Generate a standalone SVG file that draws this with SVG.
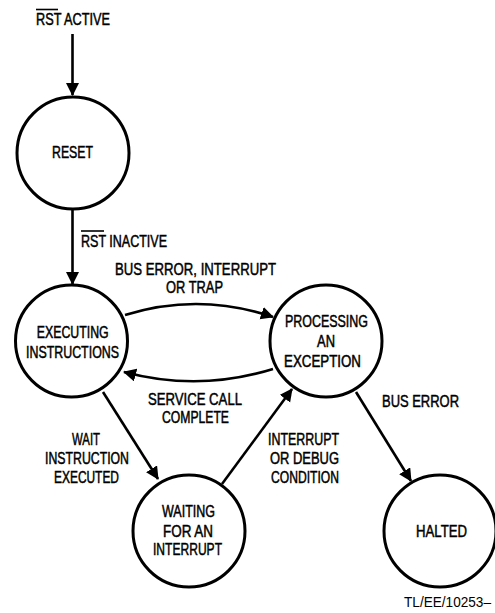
<svg xmlns="http://www.w3.org/2000/svg" width="495" height="613" viewBox="0 0 495 613">
<style>
.node{fill:#fff;stroke:#000;stroke-width:3}
.edge{fill:none;stroke:#000;stroke-width:2.6}
.ov{stroke:#000;stroke-width:1.6}
text{font-family:"Liberation Sans",Arial,sans-serif;font-size:17px;fill:#000;stroke:#000;stroke-width:0.5}
.small{font-size:14px;stroke-width:0}
</style>
<defs>
<marker id="ah" markerUnits="userSpaceOnUse" markerWidth="14" markerHeight="14" refX="12" refY="6.5" orient="auto">
<path d="M0,0 L13,6.5 L0,13 Z" fill="#000"/>
</marker>
</defs>
<rect width="495" height="613" fill="#fff"/>
<g id="connectors">
<line class="edge" x1="72.5" y1="34" x2="72.5" y2="95" marker-end="url(#ah)"/>
<line class="edge" x1="72.5" y1="210" x2="72.5" y2="284" marker-end="url(#ah)"/>
<path class="edge" d="M125,315 Q199,292 273,317" marker-end="url(#ah)"/>
<path class="edge" d="M273,369 Q199,392 124,372" marker-end="url(#ah)"/>
<line class="edge" x1="103" y1="392" x2="158" y2="479" marker-end="url(#ah)"/>
<line class="edge" x1="222" y1="484" x2="292" y2="389" marker-end="url(#ah)"/>
<line class="edge" x1="356" y1="392" x2="411" y2="481" marker-end="url(#ah)"/>
</g>
<g id="labels">
<text x="36" y="25" textLength="74" lengthAdjust="spacingAndGlyphs">RST ACTIVE</text>
<line class="ov" x1="36" y1="9.5" x2="58" y2="9.5"/>
<text x="81" y="247" textLength="86" lengthAdjust="spacingAndGlyphs">RST INACTIVE</text>
<line class="ov" x1="81" y1="231" x2="104" y2="231"/>
<text x="115" y="275" textLength="161" lengthAdjust="spacingAndGlyphs">BUS ERROR, INTERRUPT</text>
<text x="166" y="293" textLength="57" lengthAdjust="spacingAndGlyphs">OR TRAP</text>
<text x="148" y="405" textLength="94" lengthAdjust="spacingAndGlyphs">SERVICE CALL</text>
<text x="162" y="423" textLength="67" lengthAdjust="spacingAndGlyphs">COMPLETE</text>
<text x="382" y="407" textLength="77" lengthAdjust="spacingAndGlyphs">BUS ERROR</text>
<text x="72" y="445" textLength="28" lengthAdjust="spacingAndGlyphs">WAIT</text>
<text x="45" y="464" textLength="84" lengthAdjust="spacingAndGlyphs">INSTRUCTION</text>
<text x="54" y="483" textLength="65" lengthAdjust="spacingAndGlyphs">EXECUTED</text>
<text x="268" y="445" textLength="71" lengthAdjust="spacingAndGlyphs">INTERRUPT</text>
<text x="270" y="464" textLength="69" lengthAdjust="spacingAndGlyphs">OR DEBUG</text>
<text x="271" y="483" textLength="68" lengthAdjust="spacingAndGlyphs">CONDITION</text>
<text class="small" x="404" y="607" textLength="87" lengthAdjust="spacingAndGlyphs">TL/EE/10253–</text>
</g>
<g id="reset">
<circle class="node" cx="73" cy="153" r="56"/>
<text x="52" y="158" textLength="41" lengthAdjust="spacingAndGlyphs">RESET</text>
</g>
<g id="executing">
<circle class="node" cx="71.5" cy="341" r="56"/>
<text x="36.7" y="338" textLength="72" lengthAdjust="spacingAndGlyphs">EXECUTING</text>
<text x="26" y="358" textLength="93" lengthAdjust="spacingAndGlyphs">INSTRUCTIONS</text>
</g>
<g id="processing">
<circle class="node" cx="326" cy="341" r="56"/>
<text x="285" y="327" textLength="83" lengthAdjust="spacingAndGlyphs">PROCESSING</text>
<text x="317" y="347" textLength="18" lengthAdjust="spacingAndGlyphs">AN</text>
<text x="284" y="367" textLength="77" lengthAdjust="spacingAndGlyphs">EXCEPTION</text>
</g>
<g id="waiting">
<circle class="node" cx="189" cy="531" r="56"/>
<text x="162" y="517" textLength="53" lengthAdjust="spacingAndGlyphs">WAITING</text>
<text x="163" y="537" textLength="50" lengthAdjust="spacingAndGlyphs">FOR AN</text>
<text x="153" y="555" textLength="69" lengthAdjust="spacingAndGlyphs">INTERRUPT</text>
</g>
<g id="halted">
<circle class="node" cx="440" cy="531" r="56"/>
<text x="416" y="537" textLength="51" lengthAdjust="spacingAndGlyphs">HALTED</text>
</g>
</svg>
